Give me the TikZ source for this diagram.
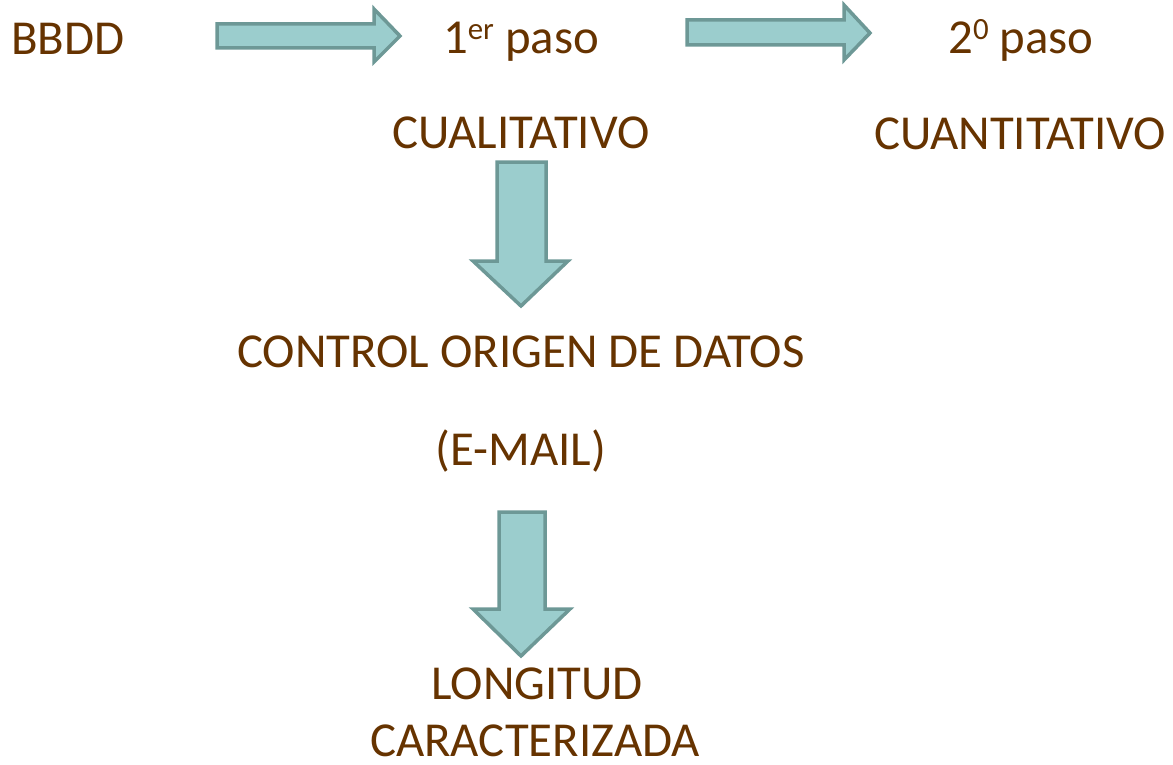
\documentclass[tikz,border=0pt]{standalone}
\usepackage{fontspec}
\setmainfont{Carlito}
\usetikzlibrary{positioning}

\definecolor{textbrown}{RGB}{102,51,0}
\definecolor{arrowfill}{RGB}{155,205,205}
\definecolor{arrowline}{RGB}{109,152,150}

\newcommand\upscript[1]{\raisebox{14bp}{\fontsize{31}{31}\selectfont #1}}

\tikzset{
    label text/.style={text=textbrown, font=\fontsize{49}{58}\selectfont, inner sep=0pt, anchor=base},
    fat arrow/.style={draw=arrowline, fill=arrowfill, line width=3.5bp, line join=miter}
}

\begin{document}
\begin{tikzpicture}[x=1bp,y=-1bp]
        \useasboundingbox (0,0) rectangle (1173,765);

        % texts
        \node[label text] (bbdd) at (68,55) {BBDD};
        \node[label text] (paso1) at (521,54) {1\upscript{er} paso};
        \node[label text] (paso2) at (1021,54) {2\upscript{0} paso};
        \node[label text] (cuali) at (521,148) {CUALITATIVO};
        \node[label text] (cuanti) at (1020,149) {CUANTITATIVO};
        \node[label text] (control) at (521,367) {CONTROL ORIGEN DE DATOS};
        \node[label text] (email) at (521,465) {(E-MAIL)};
        \node[label text] (longitud) at (537,699) {LONGITUD};
        \node[label text] (caract) at (535,756) {CARACTERIZADA};

        % horizontal arrows
        \draw[fat arrow] (217,24)--(374,24)--(374,9)--(400,36)--(374,62)--(374,48)--(217,48)--cycle;
        \draw[fat arrow] (687,20)--(844,20)--(844,5)--(870,33)--(844,60)--(844,45)--(687,45)--cycle;

        % vertical arrows
        \draw[fat arrow] (497,162)--(546,162)--(546,261)--(568,261)--(521,306)--(473,261)--(497,261)--cycle;
        \draw[fat arrow] (499,512)--(545,512)--(545,609)--(570,609)--(521,656)--(473,609)--(499,609)--cycle;
    \end{tikzpicture}
\end{document}
